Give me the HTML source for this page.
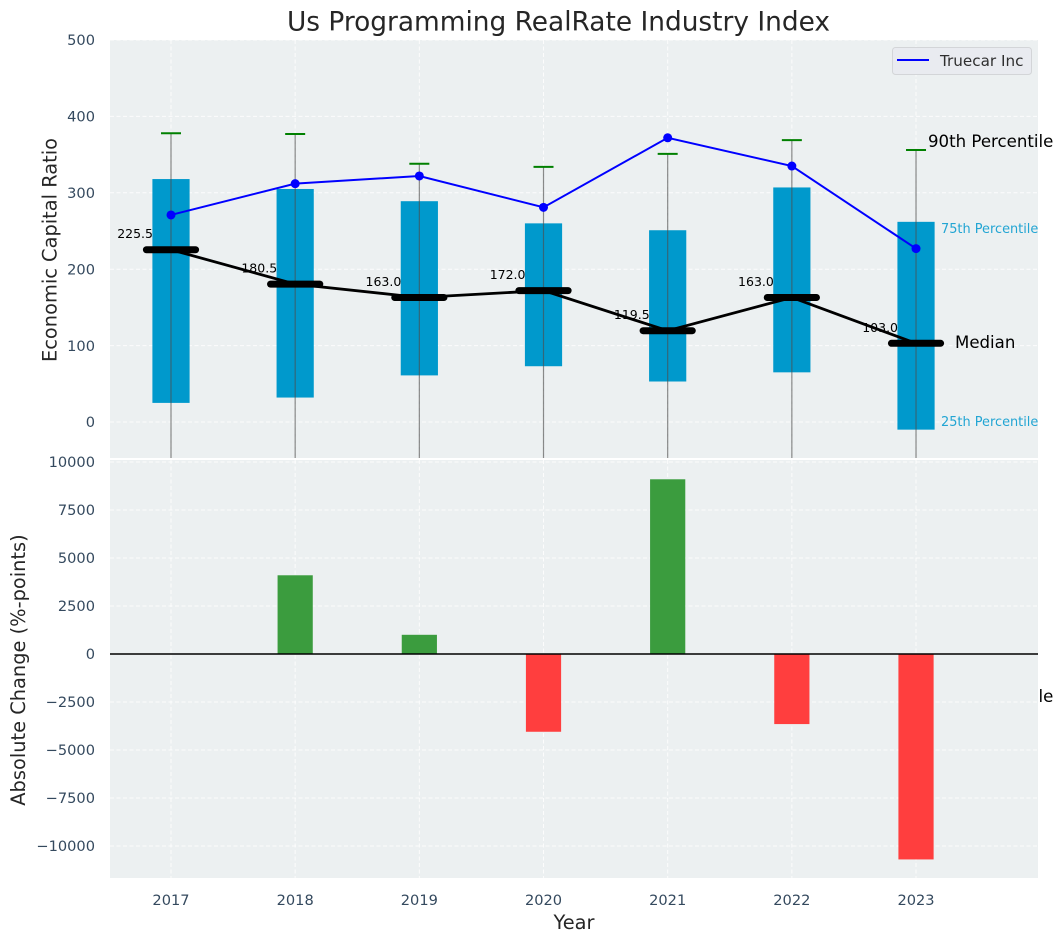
<!DOCTYPE html>
<html lang="en">
<head>
<meta charset="utf-8">
<title>Us Programming RealRate Industry Index</title>
<style>
html,body{margin:0;padding:0;background:#fff;width:1063px;height:942px;overflow:hidden}
svg{display:block;font-family:"DejaVu Sans","Liberation Sans",sans-serif}
</style>
</head>
<body>
<svg id="chart" xmlns="http://www.w3.org/2000/svg" width="1063" height="942" viewBox="0 0 1063 942">
  <defs>
    <clipPath id="top-clip"><rect x="110" y="40" width="928" height="418"/></clipPath>
  </defs>
  <rect x="0" y="0" width="1063" height="942" fill="#ffffff"/>
  <text x="558.5" y="30.5" font-size="26.4" fill="#262626" text-anchor="middle">Us Programming RealRate Industry Index</text>
  <rect x="110" y="40" width="928" height="418" fill="#ecf0f1"/>
  <g id="top-grid"></g>
  <g id="top-marks"></g>
  <text x="928" y="702" font-size="16.6" fill="#000000">10th Percentile</text>
  <rect x="110" y="460" width="928" height="418" fill="#ecf0f1"/>
  <g id="bottom-grid"></g>
  <g id="bottom-marks"></g>
  <g id="tick-labels"></g>
  <text transform="translate(56.5,250) rotate(-90)" font-size="19.4" fill="#262626" text-anchor="middle">Economic Capital Ratio</text>
  <text transform="translate(25,670) rotate(-90)" font-size="19.4" fill="#262626" text-anchor="middle">Absolute Change (%-points)</text>
  <text x="574" y="929" font-size="19.4" fill="#262626" text-anchor="middle">Year</text>
  <g>
    <rect x="892.5" y="47.5" width="139" height="27" rx="3" fill="#e9ebf0" stroke="#d3d5d8" stroke-width="1"/>
    <line x1="897" y1="60" x2="929" y2="60" stroke="#0000ff" stroke-width="2"/>
    <text x="940" y="66" font-size="15.2" fill="#2f2f2f">Truecar Inc</text>
  </g>
  <text x="928" y="147" font-size="16.6" fill="#000000">90th Percentile</text>
  <text x="941" y="233" font-size="12.9" fill="#22a5d3">75th Percentile</text>
  <text x="955" y="348" font-size="16.6" fill="#000000">Median</text>
  <text x="941" y="426" font-size="12.9" fill="#22a5d3">25th Percentile</text>
</svg>
<script>
const years = [2017, 2018, 2019, 2020, 2021, 2022, 2023];
const whiskerHigh = [378, 377, 338, 334, 351, 369, 356];
const whiskerLow = [-60, -60, -60, -60, -60, -60, -60];
const q75 = [318, 305, 289, 260, 251, 307, 262];
const q25 = [25, 32, 61, 73, 53, 65, -10];
const medians = [225.5, 180.5, 163.0, 172.0, 119.5, 163.0, 103.0];
const truecar = [271, 312, 322, 281, 372, 335, 227];
const absoluteChange = [0, 4100, 1000, -4050, 9100, -3650, -10700];
const topTicks = [0, 100, 200, 300, 400, 500];
const bottomTicks = [-10000, -7500, -5000, -2500, 0, 2500, 5000, 7500, 10000];

const NS = 'http://www.w3.org/2000/svg';
function xPos(year) { return 171 + (year - 2017) * 124.17; }
function yTop(v) { return 422 - v * 0.764; }
function yBottom(v) { return 654 - v * 0.0192; }
function make(parent, tag, attrs, text) {
  const el = document.createElementNS(NS, tag);
  for (const k in attrs) el.setAttribute(k, attrs[k]);
  if (text !== undefined) el.textContent = text;
  parent.appendChild(el);
  return el;
}
const gridStyle = { stroke: '#ffffff', 'stroke-width': 1, 'stroke-dasharray': '4 2.5', opacity: 0.85 };
const topGrid = document.getElementById('top-grid');
const topMarks = document.getElementById('top-marks');
const bottomGrid = document.getElementById('bottom-grid');
const bottomMarks = document.getElementById('bottom-marks');
const tickLabels = document.getElementById('tick-labels');
const tickColor = '#34495e';

topTicks.forEach(function (t) {
  const y = yTop(t);
  const g = make(topGrid, 'line', Object.assign({ x1: 110, x2: 1038, y1: y, y2: y }, gridStyle));
  
  
  const l = make(tickLabels, 'text', { x: 95, y: y + 5.2, 'font-size': 14.6, fill: tickColor, 'text-anchor': 'end' }, String(t));
  
  
});
bottomTicks.forEach(function (t) {
  const y = yBottom(t);
  const g = make(bottomGrid, 'line', Object.assign({ x1: 110, x2: 1038, y1: y, y2: y }, gridStyle));
  
  
  const l = make(tickLabels, 'text', { x: 95, y: y + 5.2, 'font-size': 14.6, fill: tickColor, 'text-anchor': 'end' }, String(t).replace('-', '\u2212'));
  
  
});
years.forEach(function (yr) {
  const x = xPos(yr);
  const g1 = make(topGrid, 'line', Object.assign({ x1: x, x2: x, y1: 40, y2: 458 }, gridStyle));
  
  
  const g2 = make(bottomGrid, 'line', Object.assign({ x1: x, x2: x, y1: 460, y2: 878 }, gridStyle));
  
  
  const l = make(tickLabels, 'text', { x: x, y: 905, 'font-size': 14.6, fill: tickColor, 'text-anchor': 'middle' }, String(yr));
  
  
});

const clipped = make(topMarks, 'g', { 'clip-path': 'url(#top-clip)' });



years.forEach(function (yr, i) {
  const x = xPos(yr);
  const box = make(clipped, 'rect', { x: x - 18.6, width: 37.2, y: yTop(q75[i]), height: yTop(q25[i]) - yTop(q75[i]), fill: '#0099cc' });
  
  
  const w = make(clipped, 'line', { x1: x, x2: x, y1: yTop(whiskerHigh[i]), y2: yTop(whiskerLow[i]), stroke: '#4d4d4d', 'stroke-opacity': 0.65, 'stroke-width': 1.2 });
  
  
  const c = make(clipped, 'line', { x1: x - 10, x2: x + 10, y1: yTop(whiskerHigh[i]), y2: yTop(whiskerHigh[i]), stroke: '#008000', 'stroke-width': 2 });
  
  
});

function linePoints(values, scale) {
  return values.map(function (v, i) { return xPos(years[i]) + ',' + scale(v); }).join(' ');
}
const blue = make(topMarks, 'polyline', { points: linePoints(truecar, yTop), fill: 'none', stroke: '#0000ff', 'stroke-width': 2 });


truecar.forEach(function (v, i) {
  const p = make(topMarks, 'circle', { cx: xPos(years[i]), cy: yTop(v), r: 4.5, fill: '#0000ff' });
  
  
});
const medLine = make(topMarks, 'polyline', { points: linePoints(medians, yTop), fill: 'none', stroke: '#000000', 'stroke-width': 2.8 });


medians.forEach(function (v, i) {
  const x = xPos(years[i]);
  const y = yTop(v);
  const m = make(topMarks, 'line', { x1: x - 24.6, x2: x + 24.6, y1: y, y2: y, stroke: '#000000', 'stroke-width': 7, 'stroke-linecap': 'round' });
  
  
  const t = make(topMarks, 'text', { x: x - 18, y: y - 11.5, 'font-size': 12.5, fill: '#000000', 'text-anchor': 'end' }, v.toFixed(1));
  
  
});

absoluteChange.forEach(function (v, i) {
  const x = xPos(years[i]);
  const top = Math.min(yBottom(v), yBottom(0));
  const h = Math.abs(yBottom(v) - yBottom(0));
  const b = make(bottomMarks, 'rect', { x: x - 17.6, width: 35.2, y: top, height: h, fill: v >= 0 ? '#3b9c3e' : '#ff3e3e' });
  
  
});
const zero = make(bottomMarks, 'line', { x1: 110, x2: 1038, y1: yBottom(0), y2: yBottom(0), stroke: '#000000', 'stroke-width': 1.4 });


</script>
</body>
</html>
